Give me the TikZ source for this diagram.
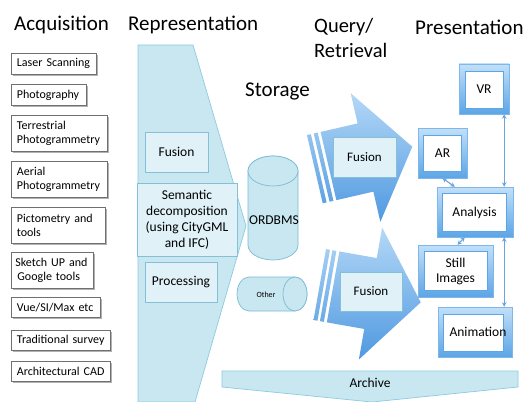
\documentclass[tikz,border=0pt]{standalone}
\usepackage{fontspec}
\setmainfont{Carlito}
\usetikzlibrary{shadows,arrows.meta,calc}
\definecolor{repfill}{HTML}{C8E7F1}
\definecolor{repline}{HTML}{8CCBE0}
\definecolor{cylline}{HTML}{7BBAD5}
\definecolor{boxfill}{HTML}{E0F2F8}
\definecolor{boxline}{HTML}{86C0D8}
\definecolor{arrlight}{HTML}{B4D8F7}
\definecolor{arrdark}{HTML}{4F99E0}
\definecolor{frlight}{HTML}{C2E0F8}
\definecolor{frdark}{HTML}{5CA5E6}
\definecolor{linkblue}{HTML}{6AA4DA}
\definecolor{acqline}{HTML}{707070}
\tikzset{
  acq/.style={draw=acqline, line width=0.8pt, fill=white, inner xsep=5.5pt, inner ysep=0pt,
    align=left, anchor=north west, font=\fontsize{12}{14}\selectfont,
    drop shadow={shadow xshift=1.3pt, shadow yshift=-1.3pt, opacity=0.3, fill=black}},
  hdr/.style={anchor=base west, inner sep=0pt, font=\fontsize{21}{25}\selectfont},
  ibox/.style={draw=boxline, line width=0.8pt, fill=boxfill, inner sep=0pt, align=center,
    font=\fontsize{13.5}{16}\selectfont,
    drop shadow={shadow xshift=1.3pt, shadow yshift=-1.3pt, opacity=0.25, fill=black}},
  pframe/.style={top color=frlight, bottom color=frdark, draw=frdark!80, line width=0.4pt, inner sep=0pt},
  pinner/.style={fill=white, draw=frdark, line width=0.4pt, inner sep=0pt, align=center,
    font=\fontsize{13.5}{15}\selectfont},
  link/.style={draw=linkblue, line width=1.1pt, {Stealth[length=4.5pt,width=4.5pt]}-{Stealth[length=4.5pt,width=4.5pt]}},
  repshape/.style={fill=repfill, draw=repline, line width=0.7pt},
  cyl/.style={fill=repfill, draw=cylline, line width=0.7pt},
  bigarrow/.style={top color=arrlight, bottom color=arrdark},
  plain/.style={inner sep=0pt},
}
\begin{document}
\begin{tikzpicture}[x=1pt,y=1pt]
\useasboundingbox (0,0) rectangle (526,-401);
\fill[white] (0,0) rectangle (526,-401);

% headers
\node[hdr] (hacq) at (14,-31) {Acquisition};
\node[hdr] (hrep) at (128,-31) {Representation};
\node[hdr, anchor=north west, align=left, font=\fontsize{20.5}{25}\selectfont] (hqry) at (314,-18) {Query/\\Retrieval};
\node[hdr] (hpre) at (415,-35) {Presentation};
\node[hdr] (hsto) at (245,-96) {Storage};

% acquisition boxes
\node[acq, text width=74pt, minimum height=21pt] (a1) at (11,-53) {Laser Scanning};
\node[acq, text width=64pt, minimum height=21pt] (a2) at (11,-84) {Photography};
\node[acq, text width=85pt, minimum height=36pt] (a3) at (11,-115) {Terrestrial\\Photogrammetry};
\node[acq, text width=85pt, minimum height=36pt] (a4) at (11,-161) {Aerial\\Photogrammetry};
\node[acq, text width=83pt, minimum height=36pt] (a5) at (11,-207) {Pictometry and\\tools};
\node[acq, inner xsep=4pt, text width=74pt, minimum height=36pt] (a6) at (11,-252) {\mbox{Sketch UP and}\\\hspace*{2pt}Google tools};
\node[acq, text width=78pt, minimum height=20pt] (a7) at (11,-297) {Vue/SI/Max etc};
\node[acq, text width=88pt, minimum height=20pt] (a8) at (11,-330) {Traditional survey};
\node[acq, text width=88pt, minimum height=20pt] (a9) at (11,-361) {Architectural CAD};

% representation shape
\draw[repshape] (138,-45) -- (193,-45) -- (246,-226) -- (195,-402) -- (138,-402) -- cycle;
\node[ibox, minimum width=63pt, minimum height=40pt] (rfus) at (176.5,-152) {Fusion};
\node[ibox, minimum width=100pt, minimum height=73pt] (sem) at (187,-219.5) {Semantic\\decomposition\\(using CityGML\\and IFC)};
\node[ibox, minimum width=72pt, minimum height=40pt] (proc) at (181,-282) {Processing};

% storage cylinders
\draw[cyl] (248,-171) -- (248,-245) arc[start angle=180, end angle=360, x radius=25, y radius=15]
  -- (298,-171) arc[start angle=0, end angle=180, x radius=25, y radius=15] -- cycle;
\draw[cyl] (273,-171) ellipse[x radius=25, y radius=15];
\node[plain, font=\fontsize{13.5}{16}\selectfont] (ord) at (274,-220) {ORDBMS};

\draw[cyl] (249,-277) -- (295,-277) arc[start angle=90, end angle=-90, x radius=12, y radius=17]
  -- (249,-311) arc[start angle=270, end angle=90, x radius=12, y radius=17] -- cycle;
\draw[cyl] (295,-294) ellipse[x radius=12, y radius=17];
\node[plain, font=\fontsize{8}{9}\selectfont] (oth) at (266,-295) {Other};

% archive
\draw[repshape] (222,-371) -- (518,-371) -- (518,-387) -- (372,-402) -- (222,-387) -- cycle;
\node[plain, font=\fontsize{13.5}{16}\selectfont] (arch) at (370,-383) {Archive};

% big arrows
\begin{scope}[shift={(365.5,-157.5)}, rotate=13]
\shade[bigarrow] (-38,35) -- (0,35) -- (0,66) -- (48,0) -- (0,-66) -- (0,-35) -- (-38,-35) -- cycle
  (-45,35) -- (-41,35) -- (-41,-35) -- (-45,-35) -- cycle
  (-52,35) -- (-48,35) -- (-48,-35) -- (-52,-35) -- cycle;
\end{scope}
\begin{scope}[shift={(370.5,-293.5)}, rotate=-10]
\shade[bigarrow] (-38,36) -- (0,36) -- (0,67) -- (51,0) -- (0,-67) -- (0,-36) -- (-38,-36) -- cycle
  (-45,36) -- (-41,36) -- (-41,-36) -- (-45,-36) -- cycle
  (-51.5,36) -- (-47.5,36) -- (-47.5,-36) -- (-51.5,-36) -- cycle;
\end{scope}
\node[ibox, minimum width=63pt, minimum height=40pt, font=\fontsize{13}{16}\selectfont] (qf1) at (364.5,-157) {Fusion};
\node[ibox, minimum width=62pt, minimum height=39pt, font=\fontsize{13}{16}\selectfont] (qf2) at (371,-291.5) {Fusion};

% presentation
\node[pframe, minimum width=50pt, minimum height=50pt] (vr) at (484,-89) {};
\node[pinner, minimum width=38pt, minimum height=37pt] (vrt) at (484,-89.5) {VR};
\node[pframe, minimum width=49pt, minimum height=50pt] (ar) at (442.5,-153) {};
\node[pinner, minimum width=38pt, minimum height=36pt] (art) at (442.5,-153) {AR};
\node[pframe, minimum width=76pt, minimum height=50pt] (an) at (475,-212) {};
\node[pinner, minimum width=64pt, minimum height=38pt] (ant) at (474.5,-212.5) {Analysis};
\node[pframe, minimum width=75pt, minimum height=52pt] (si) at (455.5,-271) {};
\node[pinner, minimum width=63pt, minimum height=39pt] (sit) at (455.5,-271) {Still\\Images};
\node[pframe, minimum width=74pt, minimum height=50pt] (anim) at (475,-332) {};
\node[pinner, minimum width=60pt, minimum height=37pt] (animb) at (473.5,-332.5) {};
\node[plain, font=\fontsize{13.5}{15}\selectfont] (animt) at (478,-332) {Animation};

% links
\draw[link] ($(vr.south east)+(-5,0)$) -- ($(an.north east)+(-9,0)$);
\draw[link] ($(an.south east)+(-9,0)$) -- ($(anim.north east)+(-8,0)$);
\draw[link] (ar.south) -- ($(an.north west)+(18,0)$);
\draw[link] ($(an.south west)+(28,0)$) -- ($(si.north)+(2,0)$);
\end{tikzpicture}
\end{document}
